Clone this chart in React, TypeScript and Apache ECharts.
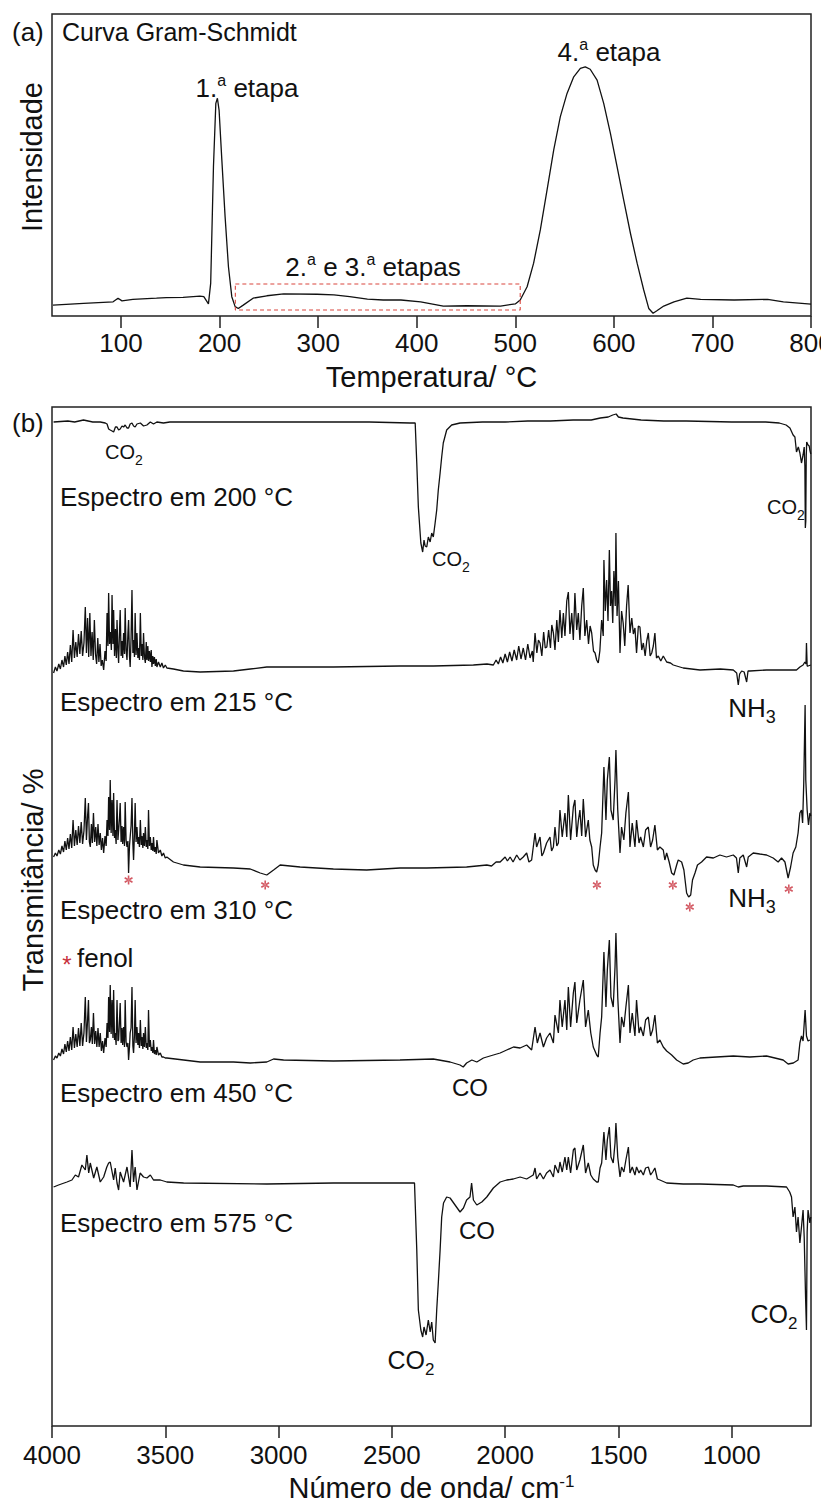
import { useEffect, useRef } from "react";
import * as echarts from "echarts";

const FONT = "'Liberation Sans', Arial, Helvetica, sans-serif";
const INK = "#111";
const STAR = "#c8303c";

// Axis ticks
const tempTicks = [100, 200, 300, 400, 500, 600, 700, 800];
const waveTicks = [4000, 3500, 3000, 2500, 2000, 1500, 1000];

// (a) Gram-Schmidt curve: [temperature °C, intensity a.u.]
const gramSchmidt: number[][] = [
  [31, 3.6], [62, 4.2], [92, 4.7], [97, 5.9], [101, 5.0], [112, 5.5], [136, 5.9], [146, 6.1],
  [163, 6.2], [180, 6.6], [184, 6.4], [188.7, 4.0], [191, 10.9], [193.8, 49.4], [196.2, 70.4],
  [197.8, 72.1], [199.5, 68.2], [202.3, 51.7], [205.6, 32.9], [209, 16.3], [212.4, 6.4],
  [215.8, 3.1], [219, 2.5], [224, 3.6], [234, 5.9], [248, 6.7], [265, 7.3], [299, 7.2],
  [316, 7.0], [332, 6.4], [350, 5.6], [366, 5.3], [384, 5.3], [404, 4.7], [427, 3.3],
  [451, 3.4], [485, 3.3], [500, 4.0], [505, 5.3], [512, 9.7], [518.6, 17.5], [525.4, 28.5],
  [532.2, 41.7], [539, 55.0], [545.7, 66.0], [552.5, 73.7], [559.3, 79.2], [566, 82.0],
  [571, 82.5], [576, 81.7], [583, 78.1], [589.7, 70.4], [596.5, 60.5], [603.3, 49.4],
  [610, 38.4], [616.8, 27.4], [623.6, 17.5], [630.3, 8.6], [635.4, 2.5], [639.8, 0.9],
  [644, 1.8], [650.6, 3.3], [661, 4.7], [674, 5.9], [688, 5.5], [722, 5.3], [756, 5.5],
  [772, 4.7], [800, 3.9],
];

// Dashed frame around the 2nd and 3rd steps: [temperature, intensity]
const stageBox: number[][] = [[216, 10.6], [505, 10.6], [505, 2.0], [216, 2.0], [216, 10.6]];

// (b) FTIR spectra of evolved gases, stacked: [wavenumber cm-1, transmittance a.u.]
const spec200: number[][] = [
  [3993, 100.4], [3930, 100.5], [3900, 100.4], [3861, 100.6], [3820, 100.4], [3787, 100.4],
  [3765, 100.3], [3757, 100.2], [3750, 99.7], [3743, 99.6], [3735, 99.5], [3728, 99.4],
  [3720, 99.9], [3713, 99.9], [3706, 99.6], [3699, 99.7], [3691, 100.0], [3684, 99.9],
  [3677, 100.1], [3669, 99.8], [3662, 99.8], [3655, 100.2], [3647, 100.3], [3640, 100.0],
  [3633, 99.9], [3625, 100.2], [3610, 100.3], [3596, 100.0], [3581, 100.1], [3566, 100.4],
  [3552, 100.2], [3537, 100.4], [3508, 100.3], [3480, 100.4], [3434, 100.4], [3200, 100.4],
  [3000, 100.4], [2800, 100.4], [2600, 100.4], [2420, 100.3], [2397, 100.3], [2390, 96.3],
  [2383, 91.9], [2372, 88.3], [2364, 87.4], [2358, 88.6], [2353, 88.0], [2346, 87.9],
  [2339, 88.9], [2331, 88.4], [2324, 89.3], [2317, 88.9], [2309, 90.3], [2302, 91.6],
  [2295, 93.6], [2287, 95.3], [2280, 96.9], [2273, 98.3], [2258, 99.6], [2236, 100.1],
  [2199, 100.3], [2100, 100.4], [2000, 100.4], [1900, 100.5], [1800, 100.5], [1700, 100.6],
  [1620, 100.6], [1580, 100.8], [1545, 100.9], [1525, 101.1], [1510, 101.2], [1500, 100.9],
  [1480, 100.8], [1440, 100.7], [1400, 100.6], [1300, 100.5], [1200, 100.5], [1000, 100.4],
  [850, 100.4], [790, 100.3], [760, 100.1], [743, 99.8], [735, 99.4], [729, 99.1],
  [721, 98.9], [714, 97.4], [706, 97.9], [699, 97.3], [692, 96.3], [685, 97.1], [680, 97.9],
  [677, 96.0], [675, 89.8], [673, 90.5], [671, 97.0], [669, 98.4], [663, 98.1], [658, 98.0],
  [655, 97.6], [651, 97.2],
];

const spec215: number[][] = [
  [3993, 75.3], [3985, 75.9], [3978, 75.5], [3970, 76.2], [3963, 75.7], [3956, 76.6],
  [3949, 75.9], [3943, 77.0], [3937, 76.1], [3931, 77.4], [3925, 76.2], [3919, 78.1],
  [3913, 76.4], [3907, 79.6], [3901, 76.8], [3895, 78.4], [3889, 76.9], [3883, 79.2],
  [3877, 77.2], [3871, 79.5], [3865, 77.0], [3859, 78.3], [3853, 81.9], [3848, 77.3],
  [3843, 80.8], [3838, 76.9], [3833, 81.3], [3828, 77.0], [3823, 79.4], [3818, 76.6],
  [3813, 80.6], [3808, 77.2], [3803, 76.2], [3798, 78.8], [3793, 76.4], [3788, 78.2],
  [3783, 76.0], [3778, 76.6], [3772, 75.6], [3766, 77.5], [3761, 76.5], [3757, 81.3],
  [3753, 78.0], [3750, 83.3], [3746, 78.2], [3742, 79.4], [3738, 77.6], [3735, 83.1],
  [3731, 78.2], [3728, 81.6], [3724, 77.0], [3720, 79.7], [3716, 76.8], [3713, 80.6],
  [3709, 77.5], [3706, 76.3], [3702, 79.5], [3699, 81.6], [3695, 77.0], [3691, 78.5],
  [3688, 76.8], [3684, 79.3], [3680, 77.2], [3677, 81.8], [3673, 77.6], [3669, 76.6],
  [3665, 79.2], [3662, 80.6], [3658, 77.0], [3655, 75.9], [3651, 78.8], [3647, 83.6],
  [3643, 77.3], [3640, 78.6], [3636, 76.9], [3633, 81.3], [3629, 77.1], [3625, 79.3],
  [3621, 76.8], [3618, 77.8], [3614, 76.6], [3610, 81.3], [3606, 77.0], [3603, 78.2],
  [3599, 76.6], [3596, 79.3], [3592, 76.9], [3588, 76.3], [3584, 78.4], [3581, 76.6],
  [3577, 78.0], [3574, 76.5], [3570, 77.5], [3566, 76.4], [3562, 77.6], [3559, 75.9],
  [3555, 77.0], [3552, 76.2], [3548, 76.9], [3544, 76.0], [3540, 76.7], [3537, 75.9],
  [3530, 76.4], [3522, 75.9], [3515, 76.3], [3508, 75.8], [3500, 76.1], [3493, 75.8],
  [3464, 75.7], [3420, 75.5], [3346, 75.4], [3199, 75.5], [3125, 75.7], [3052, 75.9],
  [2905, 75.9], [2758, 75.9], [2464, 76.0], [2317, 76.0], [2140, 76.1], [2080, 76.2],
  [2052, 76.1], [2040, 76.6], [2030, 76.2], [2020, 76.9], [2010, 76.3], [2000, 77.2],
  [1990, 76.4], [1980, 77.4], [1970, 76.5], [1960, 77.6], [1949, 76.6], [1940, 78.0],
  [1930, 76.7], [1920, 77.8], [1910, 76.6], [1900, 78.2], [1890, 76.8], [1880, 77.5],
  [1876, 76.4], [1868, 79.3], [1860, 77.3], [1853, 78.6], [1846, 78.3], [1838, 77.0],
  [1830, 79.4], [1823, 77.8], [1816, 77.9], [1808, 79.6], [1800, 77.8], [1794, 80.1],
  [1787, 79.3], [1780, 77.6], [1772, 80.6], [1765, 78.4], [1758, 81.6], [1750, 78.8],
  [1743, 81.3], [1736, 79.0], [1728, 82.5], [1721, 83.4], [1714, 79.2], [1706, 81.3],
  [1699, 78.6], [1692, 83.3], [1684, 79.6], [1677, 81.3], [1670, 78.6], [1662, 82.0],
  [1655, 83.8], [1648, 79.0], [1640, 80.6], [1632, 78.2], [1625, 80.0], [1618, 79.3],
  [1610, 77.5], [1603, 77.3], [1596, 76.6], [1589, 76.3], [1582, 77.5], [1574, 80.6],
  [1567, 79.0], [1564, 86.6], [1558, 81.5], [1552, 84.6], [1546, 80.5], [1540, 87.6],
  [1535, 82.0], [1530, 83.5], [1525, 80.3], [1520, 85.5], [1514, 82.0], [1511, 89.3],
  [1506, 81.0], [1500, 84.5], [1493, 77.3], [1486, 81.5], [1479, 80.3], [1472, 78.0],
  [1464, 82.0], [1457, 84.1], [1449, 79.3], [1441, 80.8], [1434, 79.2], [1427, 79.8],
  [1420, 77.3], [1412, 80.0], [1405, 79.9], [1397, 77.6], [1390, 78.3], [1382, 77.0],
  [1375, 78.5], [1368, 79.3], [1360, 77.0], [1353, 77.3], [1346, 78.0], [1339, 79.3],
  [1332, 76.8], [1324, 77.0], [1313, 76.5], [1302, 77.0], [1287, 76.4], [1270, 76.3],
  [1258, 76.1], [1214, 75.8], [1140, 75.6], [1050, 75.7], [993, 75.6], [978, 75.3],
  [971, 74.1], [965, 75.2], [956, 75.5], [945, 75.4], [934, 74.4], [928, 75.5],
  [920, 75.5], [846, 75.6], [760, 75.6], [714, 75.6], [699, 75.9], [685, 76.1],
  [677, 76.4], [672, 76.2], [670, 78.3], [667, 76.0], [663, 76.0], [651, 76.1],
];

const spec310: number[][] = [
  [3993, 56.9], [3985, 57.3], [3978, 57.0], [3970, 57.6], [3963, 57.2], [3956, 58.0],
  [3949, 57.4], [3943, 58.5], [3937, 57.6], [3931, 58.8], [3925, 57.7], [3919, 59.2],
  [3913, 57.8], [3907, 60.6], [3901, 58.0], [3895, 59.6], [3889, 58.1], [3883, 60.0],
  [3877, 58.3], [3871, 60.4], [3865, 58.2], [3859, 59.5], [3853, 62.8], [3848, 58.6],
  [3843, 61.0], [3839, 62.3], [3835, 58.4], [3831, 57.9], [3826, 60.2], [3822, 58.3],
  [3817, 61.3], [3812, 58.4], [3807, 59.9], [3802, 58.0], [3797, 60.2], [3792, 58.1],
  [3787, 59.3], [3782, 57.6], [3777, 58.8], [3772, 57.3], [3766, 59.0], [3761, 58.0],
  [3757, 60.6], [3753, 59.0], [3750, 62.9], [3746, 59.6], [3743, 64.6], [3739, 59.3],
  [3735, 62.6], [3731, 59.0], [3728, 63.3], [3724, 58.8], [3721, 59.6], [3717, 58.2],
  [3713, 62.6], [3709, 58.6], [3706, 58.6], [3702, 60.8], [3699, 62.3], [3695, 58.4],
  [3691, 60.0], [3688, 58.2], [3684, 59.9], [3680, 58.0], [3677, 62.4], [3673, 58.6],
  [3669, 57.9], [3665, 58.5], [3662, 55.3], [3658, 58.0], [3655, 58.9], [3651, 60.0],
  [3647, 62.8], [3643, 58.2], [3640, 56.6], [3636, 59.3], [3633, 62.3], [3629, 58.4],
  [3625, 59.9], [3621, 58.2], [3618, 58.9], [3614, 57.9], [3610, 60.6], [3606, 58.1],
  [3603, 59.0], [3599, 57.8], [3596, 59.3], [3592, 58.0], [3588, 59.9], [3584, 57.9],
  [3581, 58.6], [3577, 57.7], [3574, 61.6], [3570, 58.0], [3566, 58.9], [3562, 57.6],
  [3559, 58.3], [3555, 57.5], [3552, 58.9], [3548, 57.4], [3544, 57.9], [3540, 57.2],
  [3537, 58.6], [3530, 57.3], [3522, 57.6], [3515, 57.0], [3508, 57.3], [3500, 56.8],
  [3493, 56.9], [3464, 56.4], [3420, 56.1], [3346, 55.9], [3199, 55.8], [3125, 55.7],
  [3081, 55.3], [3052, 55.1], [3022, 55.6], [2993, 56.1], [2905, 55.9], [2758, 55.7],
  [2611, 55.6], [2464, 55.8], [2346, 55.8], [2170, 55.9], [2125, 56.0], [2081, 56.1],
  [2060, 56.0], [2040, 56.4], [2022, 56.4], [2000, 56.9], [1990, 56.5], [1978, 56.9],
  [1965, 56.4], [1949, 57.1], [1935, 56.6], [1920, 56.9], [1905, 57.3], [1895, 56.4],
  [1883, 56.6], [1868, 59.3], [1861, 57.9], [1846, 58.9], [1838, 57.0], [1831, 57.3],
  [1817, 58.3], [1802, 58.9], [1795, 57.5], [1787, 57.9], [1780, 59.9], [1772, 58.0],
  [1765, 58.3], [1758, 61.6], [1748, 58.9], [1736, 61.3], [1728, 58.9], [1721, 63.1],
  [1711, 58.6], [1699, 61.9], [1692, 62.6], [1684, 58.9], [1677, 60.5], [1670, 61.6],
  [1662, 59.0], [1655, 62.7], [1645, 58.9], [1633, 60.6], [1626, 58.6], [1618, 57.9],
  [1611, 56.1], [1603, 55.6], [1596, 55.4], [1589, 56.1], [1581, 57.9], [1574, 59.3],
  [1564, 65.9], [1555, 60.6], [1549, 64.6], [1540, 66.9], [1533, 61.6], [1523, 60.6],
  [1515, 64.6], [1511, 67.6], [1503, 61.6], [1493, 57.3], [1486, 59.9], [1476, 58.6],
  [1467, 61.3], [1456, 63.4], [1449, 57.9], [1439, 60.3], [1427, 57.9], [1420, 60.6],
  [1409, 58.3], [1402, 58.9], [1390, 57.9], [1380, 59.6], [1368, 59.9], [1358, 57.9],
  [1349, 58.6], [1339, 60.1], [1328, 57.6], [1317, 57.9], [1302, 57.6], [1295, 56.6],
  [1287, 57.3], [1276, 56.4], [1265, 55.3], [1255, 55.1], [1243, 56.1], [1236, 56.6],
  [1221, 56.4], [1211, 55.6], [1199, 53.3], [1190, 52.9], [1181, 53.1], [1173, 54.6],
  [1162, 55.3], [1151, 56.1], [1133, 56.4], [1111, 56.9], [1081, 56.8], [1052, 57.1],
  [1023, 56.9], [993, 57.1], [979, 56.8], [971, 55.3], [964, 56.8], [949, 57.1],
  [934, 55.9], [927, 56.9], [905, 57.3], [876, 57.2], [846, 57.1], [817, 56.8],
  [795, 56.4], [780, 56.8], [765, 56.4], [758, 55.6], [751, 54.8], [740, 55.9],
  [729, 57.3], [717, 57.9], [707, 59.3], [699, 61.3], [692, 61.6], [687, 60.3],
  [682, 64.3], [676, 72.1], [673, 64.6], [667, 61.6], [661, 60.1], [655, 61.3], [651, 61.0],
];

const spec450: number[][] = [
  [3993, 36.6], [3985, 37.0], [3978, 36.8], [3970, 37.3], [3963, 37.0], [3956, 37.7],
  [3949, 37.2], [3943, 38.2], [3937, 37.4], [3931, 38.5], [3925, 37.5], [3919, 38.9],
  [3913, 37.6], [3907, 39.9], [3901, 37.8], [3895, 39.2], [3889, 37.9], [3883, 39.8],
  [3877, 38.0], [3871, 40.3], [3865, 38.0], [3859, 39.3], [3853, 42.9], [3848, 38.4],
  [3843, 40.6], [3839, 42.6], [3835, 38.3], [3831, 38.6], [3826, 39.9], [3822, 38.2],
  [3817, 41.3], [3812, 38.2], [3807, 39.5], [3802, 37.9], [3797, 39.8], [3792, 37.9],
  [3787, 39.3], [3782, 37.5], [3777, 38.5], [3772, 37.3], [3766, 38.8], [3761, 37.9],
  [3757, 40.3], [3753, 38.8], [3750, 42.9], [3746, 39.4], [3743, 44.1], [3739, 39.2],
  [3735, 42.6], [3731, 38.8], [3728, 43.6], [3724, 38.6], [3721, 39.3], [3717, 38.1],
  [3713, 42.6], [3709, 38.5], [3706, 38.6], [3702, 40.6], [3699, 42.3], [3695, 38.3],
  [3691, 39.8], [3688, 38.1], [3684, 39.9], [3680, 37.9], [3677, 42.6], [3673, 38.4],
  [3669, 37.9], [3665, 38.3], [3662, 36.6], [3658, 37.9], [3655, 39.3], [3651, 39.8],
  [3647, 43.9], [3643, 38.0], [3640, 37.3], [3636, 39.1], [3633, 42.6], [3629, 38.3],
  [3625, 39.9], [3621, 38.1], [3618, 39.3], [3614, 37.8], [3610, 40.6], [3606, 38.0],
  [3603, 38.9], [3599, 37.7], [3596, 39.3], [3592, 37.9], [3588, 39.9], [3584, 37.8],
  [3581, 38.3], [3577, 37.6], [3574, 41.6], [3570, 37.9], [3566, 38.6], [3562, 37.5],
  [3559, 37.9], [3555, 37.3], [3552, 38.6], [3548, 37.2], [3544, 37.6], [3540, 37.1],
  [3537, 37.9], [3530, 37.1], [3522, 37.3], [3515, 36.9], [3508, 36.9], [3500, 36.8],
  [3493, 36.8], [3419, 36.6], [3346, 36.4], [3199, 36.4], [3125, 36.3], [3052, 36.4],
  [3022, 36.7], [2978, 36.6], [2758, 36.5], [2464, 36.6], [2317, 36.7], [2243, 36.4],
  [2199, 36.1], [2185, 35.9], [2170, 36.3], [2147, 36.6], [2125, 36.4], [2096, 36.8],
  [2052, 37.1], [2022, 37.3], [1993, 37.6], [1963, 37.9], [1934, 37.8], [1905, 38.1],
  [1883, 37.6], [1868, 39.9], [1858, 38.3], [1846, 39.3], [1831, 37.9], [1817, 38.8],
  [1802, 39.3], [1787, 38.3], [1780, 41.1], [1765, 39.3], [1758, 42.6], [1748, 39.9],
  [1736, 42.6], [1728, 39.6], [1721, 43.9], [1711, 39.9], [1699, 43.3], [1692, 44.4],
  [1684, 40.3], [1670, 42.6], [1655, 44.6], [1645, 39.9], [1633, 41.6], [1622, 39.3],
  [1611, 37.9], [1596, 37.1], [1589, 36.9], [1581, 39.3], [1574, 40.9], [1564, 47.4],
  [1555, 41.9], [1549, 45.6], [1540, 48.6], [1533, 42.9], [1523, 41.9], [1515, 45.9],
  [1511, 49.3], [1503, 42.9], [1493, 38.3], [1486, 40.9], [1476, 39.9], [1467, 41.9],
  [1456, 44.1], [1449, 39.3], [1439, 41.3], [1427, 39.0], [1420, 42.6], [1409, 39.3],
  [1402, 39.9], [1390, 39.0], [1380, 40.6], [1368, 40.9], [1358, 39.0], [1349, 39.6],
  [1339, 41.1], [1328, 38.3], [1317, 38.6], [1302, 37.9], [1287, 37.5], [1265, 37.1],
  [1243, 36.6], [1214, 36.2], [1192, 36.3], [1170, 36.6], [1140, 36.8], [1067, 36.9],
  [993, 37.0], [920, 36.9], [846, 37.0], [773, 36.6], [751, 36.2], [728, 36.3],
  [707, 36.6], [699, 38.3], [692, 39.0], [685, 38.5], [676, 41.6], [670, 39.0],
  [663, 38.5], [655, 38.6],
];

const spec575: number[][] = [
  [3993, 23.9], [3971, 24.1], [3934, 24.4], [3912, 24.6], [3897, 25.1], [3883, 24.9],
  [3868, 26.1], [3853, 25.6], [3846, 27.1], [3838, 25.3], [3831, 26.3], [3816, 24.8],
  [3802, 25.9], [3787, 24.4], [3772, 24.9], [3758, 25.9], [3750, 26.3], [3743, 26.4],
  [3728, 24.6], [3721, 25.8], [3713, 24.3], [3706, 23.6], [3699, 25.4], [3684, 24.4],
  [3669, 25.9], [3655, 23.9], [3647, 27.6], [3640, 24.4], [3633, 25.9], [3625, 23.6],
  [3611, 25.3], [3596, 24.9], [3581, 24.8], [3566, 25.1], [3552, 24.6], [3522, 24.6],
  [3493, 24.4], [3419, 24.3], [3052, 24.2], [2758, 24.3], [2400, 24.3], [2397, 24.3],
  [2390, 17.6], [2383, 11.6], [2372, 9.6], [2364, 8.9], [2358, 9.9], [2349, 9.1],
  [2339, 10.6], [2331, 9.4], [2324, 10.4], [2317, 8.6], [2309, 8.3], [2302, 11.6],
  [2295, 14.3], [2287, 17.6], [2280, 20.9], [2272, 22.3], [2258, 22.9], [2243, 22.8],
  [2221, 22.1], [2199, 21.4], [2184, 21.8], [2170, 22.6], [2155, 22.9], [2148, 24.3],
  [2140, 22.6], [2125, 22.1], [2103, 22.4], [2081, 22.9], [2052, 23.8], [2022, 24.4],
  [1993, 24.6], [1964, 24.7], [1934, 24.9], [1905, 24.7], [1876, 25.1], [1868, 25.8],
  [1861, 24.7], [1846, 25.3], [1831, 24.7], [1817, 25.3], [1802, 25.6], [1787, 24.9],
  [1780, 26.1], [1765, 25.3], [1758, 26.4], [1748, 25.4], [1736, 26.9], [1728, 25.6],
  [1721, 26.9], [1711, 25.3], [1699, 27.6], [1692, 27.8], [1684, 25.6], [1670, 26.6],
  [1655, 28.1], [1645, 25.3], [1633, 26.3], [1622, 25.1], [1611, 24.7], [1596, 24.4],
  [1589, 24.4], [1581, 25.8], [1574, 26.3], [1564, 29.4], [1555, 26.6], [1549, 28.6],
  [1540, 29.9], [1533, 26.9], [1523, 26.3], [1515, 28.3], [1511, 30.3], [1503, 26.9],
  [1493, 24.9], [1486, 25.9], [1476, 25.4], [1467, 26.6], [1456, 27.9], [1449, 25.3],
  [1439, 25.9], [1427, 25.1], [1420, 25.9], [1409, 25.3], [1402, 25.6], [1390, 25.1],
  [1380, 25.8], [1368, 25.9], [1358, 25.1], [1349, 25.4], [1339, 25.8], [1328, 24.7],
  [1317, 24.6], [1287, 24.3], [1214, 24.2], [1140, 24.2], [993, 24.1], [971, 23.9],
  [949, 24.0], [846, 24.0], [758, 23.9], [744, 23.4], [736, 22.9], [729, 20.9],
  [721, 21.9], [714, 19.4], [707, 20.9], [699, 18.3], [692, 19.9], [685, 21.6],
  [680, 18.9], [674, 12.9], [670, 9.6], [667, 19.4], [663, 21.6], [655, 20.3], [651, 20.9],
];

const spectra = [spec200, spec215, spec310, spec450, spec575];

// Phenol bands marked in the 310 °C spectrum: [wavenumber, marker height]
const phenolMarks: number[][] = [
  [3662, 54.6], [3059, 54.1], [1595, 54.1], [1260, 54.1], [1185, 51.9], [748, 53.7],
];

// Six-armed asterisk used for the phenol markers
const ASTERISK =
  "path://M-1.8,-10L1.8,-10L1.8,10L-1.8,10Z" +
  "M7.76,6.56L9.56,3.44L-7.76,-6.56L-9.56,-3.44Z" +
  "M-9.56,3.44L-7.76,6.56L9.56,-3.44L7.76,-6.56Z";

type Extra = Record<string, unknown>;

function label(text: string, x: number, y: number, extra: Extra = {}) {
  const align = (extra.align as string) || "left";
  return {
    type: "text",
    x,
    y,
    silent: true,
    style: {
      text,
      fontSize: 26,
      fontFamily: FONT,
      fill: INK,
      align,
      textAlign: align,
      verticalAlign: "middle",
      textVerticalAlign: "middle",
      ...extra,
    },
  };
}

const supRich = (size: number) => ({
  s: { fontSize: size, fontFamily: FONT, fill: INK, verticalAlign: "top", lineHeight: size },
});
const subRich = (size: number) => ({
  b: { fontSize: size, fontFamily: FONT, fill: INK, verticalAlign: "bottom", lineHeight: size },
});

function gas(text: string, x: number, y: number, size: number) {
  return label(text, x, y, {
    fontSize: size,
    lineHeight: size + 10,
    align: "center",
    rich: subRich(Math.round(size * 0.68)),
  });
}

const plain = (v: number) => String(v);

export default function App() {
  const ref = useRef<HTMLDivElement>(null);

  useEffect(() => {
    if (!ref.current) return;
    const chart = echarts.init(ref.current, undefined, { renderer: "svg" });

    const axisTitle = {
      fontSize: 29,
      fontFamily: FONT,
      color: INK,
    };

    const frame = {
      show: true,
      borderColor: "#222",
      borderWidth: 1.5,
      backgroundColor: "transparent",
      containLabel: false,
      outerBoundsMode: "none",
    };

    const option = {
      animation: false,
      backgroundColor: "#fff",
      textStyle: { fontFamily: FONT, color: INK },
      grid: [
        { ...frame, left: 52, top: 14, width: 759, height: 302 },
        { ...frame, left: 52, top: 407, width: 759, height: 1019 },
      ],
      xAxis: [
        {
          type: "value",
          gridIndex: 0,
          min: 30,
          max: 800,
          axisLine: { show: false },
          splitLine: { show: false },
          axisTick: { show: true, inside: false, length: 12, customValues: tempTicks, lineStyle: { color: "#222", width: 1.5 } },
          axisLabel: { customValues: tempTicks, formatter: plain, fontSize: 26, color: INK, fontFamily: FONT, margin: 14, hideOverlap: false },
          name: "Temperatura/ °C",
          nameLocation: "middle",
          nameGap: 46,
          nameTextStyle: axisTitle,
        },
        {
          type: "value",
          gridIndex: 1,
          min: 650,
          max: 4000,
          inverse: true,
          axisLine: { show: false },
          splitLine: { show: false },
          axisTick: { show: true, inside: false, length: 12, customValues: waveTicks, lineStyle: { color: "#222", width: 1.5 } },
          axisLabel: { customValues: waveTicks, formatter: plain, fontSize: 26, color: INK, fontFamily: FONT, margin: 16, hideOverlap: false },
          name: "Número de onda/ cm{s|-1}",
          nameLocation: "middle",
          nameGap: 42,
          nameTextStyle: {
            ...axisTitle,
            lineHeight: 30,
            rich: { s: { fontSize: 17, fontFamily: FONT, color: INK, verticalAlign: "top", lineHeight: 15 } },
          },
        },
      ],
      yAxis: [
        { type: "value", gridIndex: 0, min: 0, max: 100, show: false },
        { type: "value", gridIndex: 1, min: 0, max: 101.9, show: false },
      ],
      series: [
        {
          type: "line",
          xAxisIndex: 0,
          yAxisIndex: 0,
          data: gramSchmidt,
          showSymbol: false,
          symbol: "none",
          silent: true,
          lineStyle: { color: INK, width: 1.3 },
        },
        {
          type: "line",
          xAxisIndex: 0,
          yAxisIndex: 0,
          data: stageBox,
          showSymbol: false,
          symbol: "none",
          silent: true,
          lineStyle: { color: "#d9473f", width: 1.1, type: [4, 3] },
        },
        ...spectra.map((d) => ({
          type: "line",
          xAxisIndex: 1,
          yAxisIndex: 1,
          data: d,
          showSymbol: false,
          symbol: "none",
          silent: true,
          lineStyle: { color: INK, width: 1.3 },
        })),
        {
          type: "scatter",
          xAxisIndex: 1,
          yAxisIndex: 1,
          data: phenolMarks,
          symbol: ASTERISK,
          symbolSize: 9,
          symbolKeepAspect: true,
          silent: true,
          itemStyle: { color: STAR },
        },
      ],
      graphic: [
        // panel (a)
        label("(a)", 12, 32),
        label("Curva Gram-Schmidt", 62, 32, { fontSize: 25 }),
        {
          type: "text",
          x: 32,
          y: 157,
          rotation: Math.PI / 2,
          silent: true,
          style: { text: "Intensidade", fontSize: 29, fontFamily: FONT, fill: INK, align: "center", textAlign: "center", verticalAlign: "middle", textVerticalAlign: "middle" },
        },
        label("1.{s|a} etapa", 247, 88, { align: "center", lineHeight: 32, rich: supRich(16) }),
        label("4.{s|a} etapa", 609, 52, { align: "center", lineHeight: 32, rich: supRich(16) }),
        label("2.{s|a} e 3.{s|a} etapas", 373, 267, { align: "center", lineHeight: 32, rich: supRich(16) }),

        // panel (b)
        label("(b)", 12, 423),
        {
          type: "text",
          x: 33,
          y: 880,
          rotation: Math.PI / 2,
          silent: true,
          style: { text: "Transmitância/ %", fontSize: 29, fontFamily: FONT, fill: INK, align: "center", textAlign: "center", verticalAlign: "middle", textVerticalAlign: "middle" },
        },
        gas("CO{b|2}", 124, 452, 20),
        label("Espectro em 200 °C", 60, 497),
        gas("CO{b|2}", 451, 559, 20),
        gas("CO{b|2}", 786, 507, 20),

        label("Espectro em 215 °C", 60, 702),
        gas("NH{b|3}", 752, 708, 26),

        label("Espectro em 310 °C", 60, 910),
        gas("NH{b|3}", 752, 898, 26),
        label("*", 67, 964, { fontSize: 24, fill: STAR, align: "center" }),
        label("fenol", 77, 958),

        label("Espectro em 450 °C", 60, 1093),
        label("CO", 470, 1087, { fontSize: 24, align: "center" }),

        label("Espectro em 575 °C", 60, 1223),
        label("CO", 477, 1230, { fontSize: 24, align: "center" }),
        gas("CO{b|2}", 411, 1360, 25),
        gas("CO{b|2}", 774, 1314, 25),
      ],
    };

    chart.setOption(option as any);
    return () => chart.dispose();
  }, []);

  return (
    <div
      ref={ref}
      style={{ position: "absolute", left: 0, top: 0, width: 821, height: 1501, background: "#fff" }}
    />
  );
}
